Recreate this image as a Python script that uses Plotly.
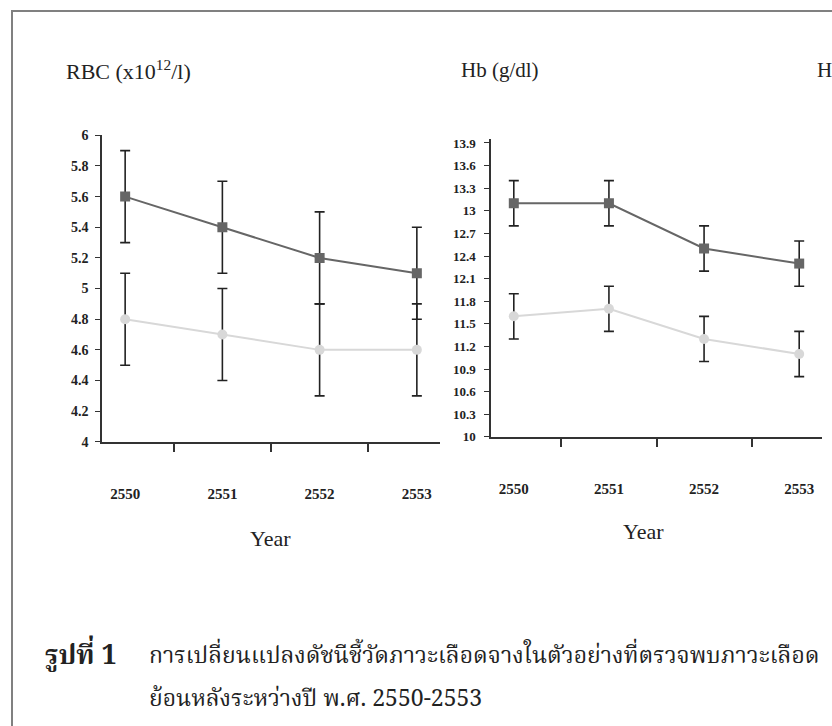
import plotly.graph_objects as go

# ---------------- data ----------------
years = ["2550", "2551", "2552", "2553"]

rbc_dark = [5.6, 5.4, 5.2, 5.1]
rbc_dark_err = [0.3, 0.3, 0.3, 0.3]
rbc_light = [4.8, 4.7, 4.6, 4.6]
rbc_light_err = [0.3, 0.3, 0.3, 0.3]

hb_dark = [13.1, 13.1, 12.5, 12.3]
hb_dark_err = [0.3, 0.3, 0.3, 0.3]
hb_light = [11.6, 11.7, 11.3, 11.1]
hb_light_err = [0.3, 0.3, 0.3, 0.3]

rbc_ticks = [4, 4.2, 4.4, 4.6, 4.8, 5, 5.2, 5.4, 5.6, 5.8, 6]
rbc_ticklabels = ["4", "4.2", "4.4", "4.6", "4.8", "5", "5.2", "5.4", "5.6", "5.8", "6"]
hb_ticks = [10, 10.3, 10.6, 10.9, 11.2, 11.5, 11.8, 12.1, 12.4, 12.7, 13, 13.3, 13.6, 13.9]
hb_ticklabels = ["10", "10.3", "10.6", "10.9", "11.2", "11.5", "11.8", "12.1", "12.4",
                 "12.7", "13", "13.3", "13.6", "13.9"]

title_rbc = "RBC (x10<sup>12</sup>/l)"
title_hb = "Hb (g/dl)"
title_third = "H"
xlabel = "Year"
caption_1 = "<b>รูปที่ 1</b>"
caption_1b = "การเปลี่ยนแปลงดัชนีชี้วัดภาวะเลือดจางในตัวอย่างที่ตรวจพบภาวะเลือด"
caption_2 = "ย้อนหลังระหว่างปี พ.ศ. 2550-2553"

# ---------------- layout helpers ----------------
W, H = 832, 726
def px(x):
    return x / W
def py(y):
    return 1 - y / H

DARK = "#666666"
LIGHT = "#d8d8d8"
ERR = "#222222"
SERIF = "Liberation Serif, Times New Roman, serif"
THAI = "Noto Serif Thai, Norasi, Noto Sans Thai, Loma, Garuda, DejaVu Sans, sans-serif"

fig = go.Figure()

def add_series(x, y, err, color, symbol, xa, ya):
    fig.add_trace(go.Scatter(
        x=x, y=y, xaxis=xa, yaxis=ya, mode="lines+markers",
        line=dict(color=color, width=2),
        marker=dict(symbol=symbol, size=10, color=color),
        error_y=dict(type="data", array=err, visible=True, color=ERR,
                     thickness=1.6, width=5),
        showlegend=False, hoverinfo="x+y",
    ))

add_series(years, rbc_dark, rbc_dark_err, DARK, "square", "x", "y")
add_series(years, rbc_light, rbc_light_err, LIGHT, "circle", "x", "y")
add_series(years, hb_dark, hb_dark_err, DARK, "square", "x2", "y2")
add_series(years, hb_light, hb_light_err, LIGHT, "circle", "x2", "y2")

xcommon = dict(type="category", tickson="boundaries", ticks="outside", ticklen=8,
               tickwidth=1.5, tickcolor="#333", showline=True, linecolor="#333",
               linewidth=1.5, showgrid=False, zeroline=False,
               tickfont=dict(family=SERIF, size=15, color="#222", weight="bold"),
               fixedrange=True)
ycommon = dict(ticks="outside", ticklen=5, tickwidth=1.2, tickcolor="#333",
               showline=True, linecolor="#333", linewidth=1.5, showgrid=False,
               zeroline=False, fixedrange=True)

fig.update_layout(
    width=W, height=H,
    margin=dict(l=0, r=0, t=0, b=0),
    paper_bgcolor="white", plot_bgcolor="white",
    xaxis=dict(domain=[px(102), px(440)], anchor="y", ticklabelstandoff=37, **xcommon),
    yaxis=dict(domain=[py(444), py(131)], anchor="x", range=[4, 6],
               tickvals=rbc_ticks, ticktext=rbc_ticklabels, ticklabelstandoff=4,
               tickfont=dict(family=SERIF, size=14, color="#222", weight="bold"),
               **ycommon),
    xaxis2=dict(domain=[px(491), px(822)], anchor="y2", ticklabelstandoff=37, **xcommon),
    yaxis2=dict(domain=[py(439), py(135)], anchor="x2", range=[10, 13.95],
                tickvals=hb_ticks, ticktext=hb_ticklabels, ticklabelstandoff=6,
                tickfont=dict(family=SERIF, size=13, color="#222", weight="bold"),
                **ycommon),
)

ann = []
def note(text, x, y, size, family=SERIF, xanchor="left", color="#222"):
    ann.append(dict(text=text, x=px(x), y=py(y), xref="paper", yref="paper",
                    xanchor=xanchor, yanchor="middle", showarrow=False,
                    font=dict(family=family, size=size, color=color)))

note(title_rbc, 64, 64, 22)
note(title_hb, 459, 64, 21)
note(title_third, 815, 64, 21)
note(xlabel, 270, 543, 22, xanchor="center")
note(xlabel, 643, 536, 22, xanchor="center")
note(caption_1, 43, 663, 27, family=THAI)
note(caption_1b, 147, 663, 23, family=THAI)
note(caption_2, 147, 708, 23, family=THAI)
fig.update_layout(annotations=ann)

# outer frame (only left and top edges fall inside the page)
fig.add_shape(type="rect", xref="paper", yref="paper",
              x0=px(12), y0=py(740), x1=px(850), y1=py(4),
              line=dict(color="#808080", width=2), layer="above")

fig.write_html("out.html", config={"displayModeBar": False},
               post_script="document.body.style.margin='0px';")
